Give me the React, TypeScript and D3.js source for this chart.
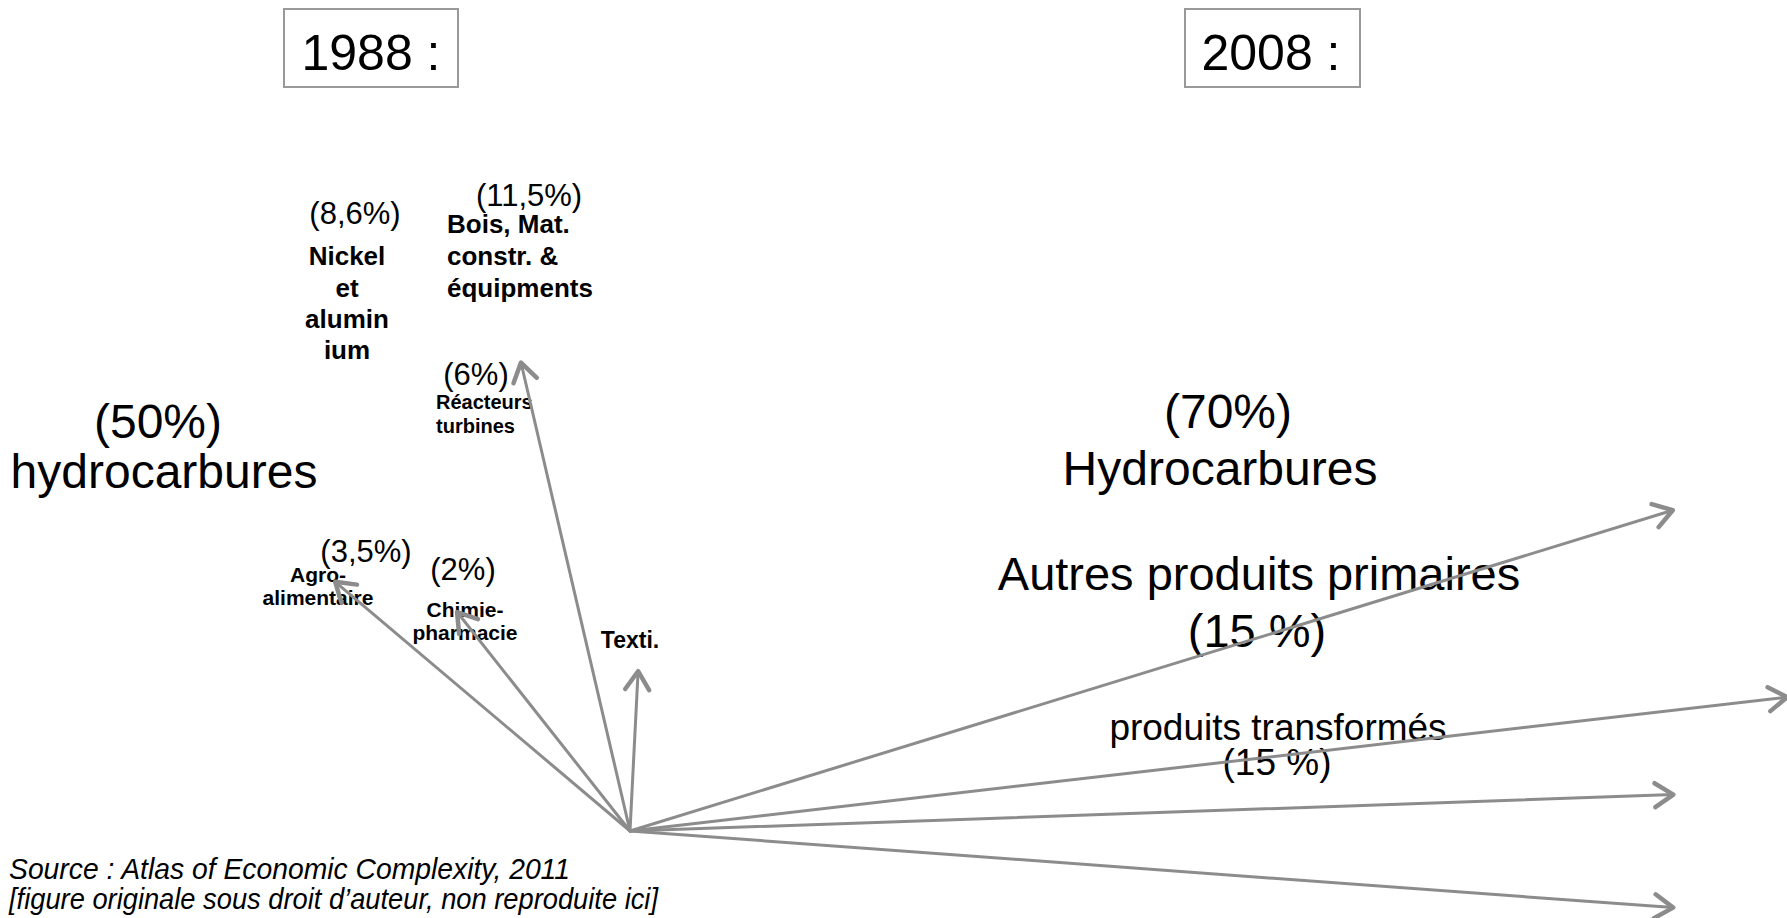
import React from 'react';
import * as d3 from 'd3';

// ---------- data ----------
const years = ['1988 :', '2008 :'];

// 1988 export shares (labels as printed)
const shares1988 = ['(50%)', '(8,6%)', '(11,5%)', '(6%)', '(3,5%)', '(2%)'];
const sectors1988 = ['hydrocarbures', 'Nickel et alumin ium', 'Bois, Mat. constr. & équipments', 'Réacteurs turbines', 'Agro- alimentaire', 'Chimie- pharmacie', 'Texti.'];

// 2008 export shares
const shares2008 = ['(70%)', '(15 %)', '(15 %)'];
const sectors2008 = ['Hydrocarbures', 'Autres produits primaires', 'produits transformés'];

// arrows: bearing (deg, clockwise from up) and length
const arrowBearings = [-49.8, -38.3, -13.1, 2.9, 72.9, 83.4, 88.0, 94.2];
const arrowLengths = [386, 279, 481, 160, 1091, 1165, 1044, 1046];

const sourceLines = [
  'Source : Atlas of Economic Complexity, 2011',
  '[figure originale sous droit d\u2019auteur, non reproduite ici]',
];

// ---------- layout ----------
const W = 1787, H = 918;
const ORIGIN: [number, number] = [630, 831];
const GRAY = '#8c8c8c';
const FONT = 'Arial, "Liberation Sans", Helvetica, sans-serif';

const rScale = d3.scaleLinear().domain([0, 1]).range([0, 1]);

function arrowGeom(bearingDeg: number, len: number) {
  const a = (bearingDeg * Math.PI) / 180;
  const [dx, dy] = d3.pointRadial(a, rScale(len));
  const tip: [number, number] = [ORIGIN[0] + dx, ORIGIN[1] + dy];
  const ux = dx / len, uy = dy / len;
  const headLen = 22, spread = (33 * Math.PI) / 180;
  const rot = (x: number, y: number, t: number) => [x * Math.cos(t) - y * Math.sin(t), x * Math.sin(t) + y * Math.cos(t)];
  const [b1x, b1y] = rot(-ux, -uy, spread);
  const [b2x, b2y] = rot(-ux, -uy, -spread);
  const shaft = d3.path();
  shaft.moveTo(ORIGIN[0], ORIGIN[1]);
  shaft.lineTo(tip[0], tip[1]);
  const head = d3.path();
  head.moveTo(tip[0] + b1x * headLen, tip[1] + b1y * headLen);
  head.lineTo(tip[0], tip[1]);
  head.lineTo(tip[0] + b2x * headLen, tip[1] + b2y * headLen);
  return { shaft: shaft.toString(), head: head.toString() };
}

const boxLayout = [
  { x: 284, y: 9, w: 174, h: 78, cx: 371, base: 70 },
  { x: 1185, y: 9, w: 175, h: 78, cx: 1271, base: 70 },
];

type T = { text: string; x: number; y: number; size: number; bold?: boolean; anchor?: string };

const texts: T[] = [
  // 1988
  { text: shares1988[0], x: 158, y: 438, size: 48 },
  { text: sectors1988[0], x: 164, y: 488, size: 48 },
  { text: shares1988[1], x: 355, y: 224, size: 31 },
  { text: shares1988[2], x: 529, y: 206, size: 31 },
  { text: shares1988[3], x: 476, y: 385, size: 31 },
  { text: shares1988[4], x: 366, y: 562, size: 31 },
  { text: shares1988[5], x: 463, y: 580, size: 31 },
  // 2008
  { text: shares2008[0], x: 1228, y: 428, size: 48 },
  { text: sectors2008[0], x: 1220, y: 485, size: 48 },
  { text: sectors2008[1], x: 1259, y: 590, size: 47 },
  { text: shares2008[1], x: 1257, y: 647, size: 47 },
  { text: sectors2008[2], x: 1278, y: 740, size: 37 },
  { text: shares2008[2], x: 1277, y: 775, size: 37 },
];

const boldGroups = [
  { lines: sectors1988[1].split(' '), x: 347, ys: [265, 297, 328, 359], size: 26, anchor: 'middle' },
  { lines: ['Bois, Mat.', 'constr. &', 'équipments'], x: 447, ys: [233, 265, 297], size: 26, anchor: 'start' },
  { lines: sectors1988[3].split(' '), x: 436, ys: [409, 433], size: 20, anchor: 'start' },
  { lines: sectors1988[4].split(' '), x: 318, ys: [582, 605], size: 21, anchor: 'middle' },
  { lines: sectors1988[5].split(' '), x: 465, ys: [617, 640], size: 21, anchor: 'middle' },
  { lines: [sectors1988[6]], x: 630, ys: [648], size: 23, anchor: 'middle' },
];

const sourceLayout = [
  { x: 9, y: 879, len: 561 },
  { x: 9, y: 909, len: 649 },
];

export default function App() {
  const arrows = arrowBearings.map((b, i) => arrowGeom(b, arrowLengths[i]));
  return (
    <svg width={W} height={H} style={{ position: 'absolute', left: 0, top: 0, background: '#fff' }} fontFamily={FONT}>
      <rect x={0} y={0} width={W} height={H} fill="#fff" />
      {years.map((y, i) => {
        const b = boxLayout[i];
        return (
          <g key={y}>
            <rect x={b.x} y={b.y} width={b.w} height={b.h} fill="#fff" stroke="#999" strokeWidth={2} />
            <text x={b.cx} y={b.base} fontSize={50} textAnchor="middle" fill="#000">{y}</text>
          </g>
        );
      })}
      {texts.map((t, i) => (
        <text key={i} x={t.x} y={t.y} fontSize={t.size} textAnchor="middle" fill="#000">{t.text}</text>
      ))}
      {boldGroups.map((g, i) => (
        <g key={i}>
          {g.lines.map((l, j) => (
            <text key={j} x={g.x} y={g.ys[j]} fontSize={g.size} fontWeight="bold" textAnchor={g.anchor} fill="#000">{l}</text>
          ))}
        </g>
      ))}
      {sourceLines.map((s, i) => (
        <text key={i} x={sourceLayout[i].x} y={sourceLayout[i].y} fontSize={29} fontStyle="italic" fill="#000"
          textLength={sourceLayout[i].len} lengthAdjust="spacingAndGlyphs">{s}</text>
      ))}
      {arrows.map((a, i) => (
        <g key={i}>
          <path d={a.shaft} stroke={GRAY} strokeWidth={3} fill="none" strokeLinecap="round" />
          <path d={a.head} stroke={GRAY} strokeWidth={4.5} fill="none" strokeLinecap="round" strokeLinejoin="round" />
        </g>
      ))}
    </svg>
  );
}
